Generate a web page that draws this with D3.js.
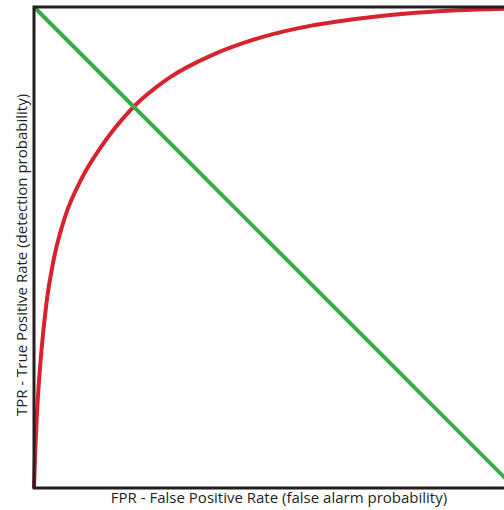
<!DOCTYPE html>
<html><head><meta charset="utf-8">
<script src="https://cdn.jsdelivr.net/npm/d3@7"></script>
<style>html,body{margin:0;padding:0;background:#fff;overflow:hidden}</style>
</head><body>
<svg id="chart" width="504" height="510"></svg>
<script>
const fpr = [0, 0.002, 0.007, 0.015, 0.026, 0.040, 0.065, 0.100, 0.140, 0.200, 0.280, 0.370, 0.450, 0.550, 0.660, 0.770, 0.880, 1.0];
const tpr = [0, 0.060, 0.170, 0.280, 0.385, 0.470, 0.565, 0.645, 0.710, 0.785, 0.852, 0.900, 0.930, 0.956, 0.974, 0.986, 0.993, 0.997];
const chanceFpr = [0, 1];
const chanceTpr = [1, 0];
const xLabel = "FPR - False Positive Rate (false alarm probability)";
const yLabel = "TPR - True Positive Rate (detection probability)";

const svg = d3.select("#chart");
const x = d3.scaleLinear().domain([0, 1]).range([34, 515]);
const y = d3.scaleLinear().domain([0, 1]).range([488, 7]);

const roc = fpr.map((v, i) => [v, tpr[i]]);
const chance = chanceFpr.map((v, i) => [v, chanceTpr[i]]);

const line = d3.line().x(d => x(d[0])).y(d => y(d[1])).curve(d3.curveMonotoneX);

svg.append("path").datum(roc).attr("d", line)
  .attr("fill", "none").attr("stroke", "#d7232e").attr("stroke-width", 4);

svg.append("path").datum(chance).attr("d", d3.line().x(d => x(d[0])).y(d => y(d[1])))
  .attr("fill", "none").attr("stroke", "#3bab4a").attr("stroke-width", 4);

// frame
svg.append("path")
  .attr("d", `M${x(1)},${y(1)} L${x(0)},${y(1)} L${x(0)},${y(0)} L${x(1)},${y(0)}`)
  .attr("fill", "none").attr("stroke", "#231f20").attr("stroke-width", 3);

svg.append("text").text(xLabel)
  .attr("x", 279).attr("y", 503).attr("text-anchor", "middle")
  .attr("font-family", "'Open Sans', Lato, sans-serif").attr("font-size", 15).attr("fill", "#231f20");

svg.append("text").text(yLabel)
  .attr("transform", "translate(27,255) rotate(-90)").attr("text-anchor", "middle")
  .attr("font-family", "'Open Sans', Lato, sans-serif").attr("font-size", 15).attr("fill", "#231f20");
</script>
</body></html>
